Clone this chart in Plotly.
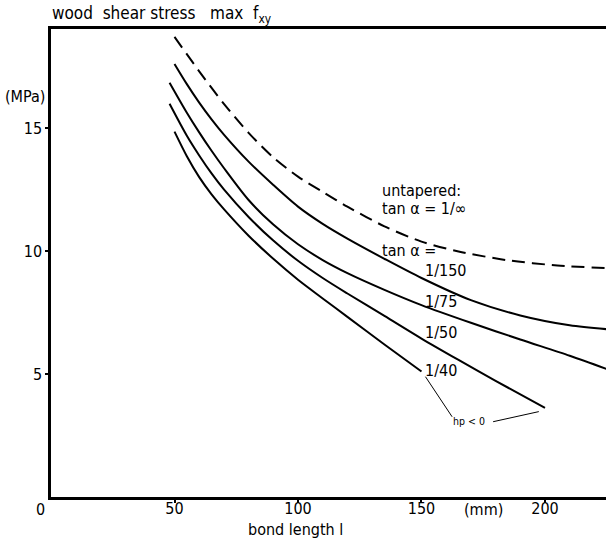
import plotly.graph_objects as go

# ---- data (bond length l in mm, max shear stress f_xy in MPa) ----
x_untapered = [50, 60, 70, 80, 90, 100, 110, 120, 135, 150, 165, 185, 205, 225]
y_untapered = [18.7, 17.3, 15.98, 14.8, 13.8, 13.02, 12.4, 11.8, 11.0, 10.38, 9.98, 9.62, 9.41, 9.3]

x_150 = [50, 55, 60, 65, 70, 80, 90, 100, 110, 120, 135, 150, 170, 190, 210, 225]
y_150 = [17.6, 16.78, 16.03, 15.35, 14.73, 13.63, 12.68, 11.8, 11.1, 10.5, 9.68, 8.9, 8.0, 7.38, 6.98, 6.82]

x_75 = [48, 55, 60, 65, 70, 80, 90, 100, 110, 120, 135, 150, 170, 190, 210, 225]
y_75 = [16.84, 15.62, 14.82, 14.07, 13.37, 12.07, 11.07, 10.27, 9.63, 9.1, 8.42, 7.8, 7.08, 6.4, 5.74, 5.2]

x_50 = [48, 55, 60, 65, 70, 80, 90, 100, 110, 120, 135, 150, 165, 180, 200]
y_50 = [15.98, 14.68, 13.88, 13.15, 12.5, 11.38, 10.42, 9.6, 8.9, 8.27, 7.36, 6.44, 5.57, 4.72, 3.62]

x_40 = [50, 55, 60, 65, 70, 80, 90, 100, 110, 120, 135, 150]
y_40 = [14.85, 13.85, 13.0, 12.3, 11.7, 10.62, 9.68, 8.83, 8.07, 7.32, 6.2, 5.1]

x_ticks = [50, 100, 150, 200]
y_ticks = [5, 10, 15]

# leader lines to the "hp < 0" note
leader1_x = [151.6, 162.4]
leader1_y = [4.89, 3.26]
leader2_x = [179.0, 197.5]
leader2_y = [3.06, 3.47]

FONT = "DejaVu Sans Condensed, Liberation Sans Narrow, DejaVu Sans, sans-serif"

fig = go.Figure()
fig.add_trace(go.Scatter(x=x_untapered, y=y_untapered, mode="lines",
                         line=dict(color="black", width=2, dash="13px,7px", shape="spline", smoothing=0.8),
                         hoverinfo="skip"))
for xs, ys in [(x_150, y_150), (x_75, y_75), (x_50, y_50), (x_40, y_40)]:
    fig.add_trace(go.Scatter(x=xs, y=ys, mode="lines",
                             line=dict(color="black", width=2, shape="spline", smoothing=0.8),
                             hoverinfo="skip"))
for lx, ly in [(leader1_x, leader1_y), (leader2_x, leader2_y)]:
    fig.add_trace(go.Scatter(x=lx, y=ly, mode="lines",
                             line=dict(color="black", width=1), hoverinfo="skip"))

ann = []
def txt(x, y, t, size=16, xanchor="left", yanchor="middle", ref="data", height=None):
    d = dict(x=x, y=y, text=t, showarrow=False, xanchor=xanchor, yanchor=yanchor,
             font=dict(family=FONT, size=size, color="black"))
    if height is not None:
        d["height"] = height
    if ref == "data":
        d.update(xref="x", yref="y")
    else:
        d.update(xref="paper", yref="paper")
    ann.append(d)

# texts outside the plotting area (paper coordinates)
txt(-0.002, 1.032, "wood  shear stress   max  f<sub>xy</sub>", size=17, ref="paper")
txt(-0.047, 0.855, "(MPa)", xanchor="center", ref="paper")
txt(-0.0198, -0.027, "0", xanchor="center", ref="paper")
txt(0.780, -0.027, "(mm)", xanchor="center", ref="paper")
txt(0.441, -0.069, "bond length l", xanchor="center", ref="paper")
# curve labels (data coordinates)
txt(133.4, 12.48, "untapered:", height=18)
txt(133.4, 11.75, "tan α = 1/∞", height=18)
txt(133.4, 10.0, "tan α =")
txt(150.5, 9.19, "1/150")
txt(150.5, 7.93, "1/75")
txt(150.5, 6.67, "1/50")
txt(150.5, 5.16, "1/40")
txt(169.4, 3.09, "hp < 0", size=10.5, xanchor="center")

fig.update_layout(
    width=606, height=542,
    margin=dict(l=51, r=0, t=29, b=45),
    paper_bgcolor="white", plot_bgcolor="white",
    showlegend=False,
    annotations=ann,
    font=dict(family=FONT, size=16, color="black"),
)
fig.update_xaxes(range=[0, 224.7], tickvals=x_ticks, ticktext=[str(v) for v in x_ticks],
                 showgrid=False, zeroline=False, showline=True, linecolor="black",
                 linewidth=2.5, mirror=True, ticks="outside", ticklen=3, tickwidth=1.5,
                 tickcolor="black", tickfont=dict(family=FONT, size=16),
                 ticklabelstandoff=-8)
fig.update_yaxes(range=[0, 19.02], tickvals=y_ticks, ticktext=[str(v) for v in y_ticks],
                 showgrid=False, zeroline=False, showline=True, linecolor="black",
                 linewidth=2.5, ticks="outside", ticklen=3, tickwidth=1.5,
                 tickcolor="black", tickfont=dict(family=FONT, size=16))

fig.write_html("out.html")
